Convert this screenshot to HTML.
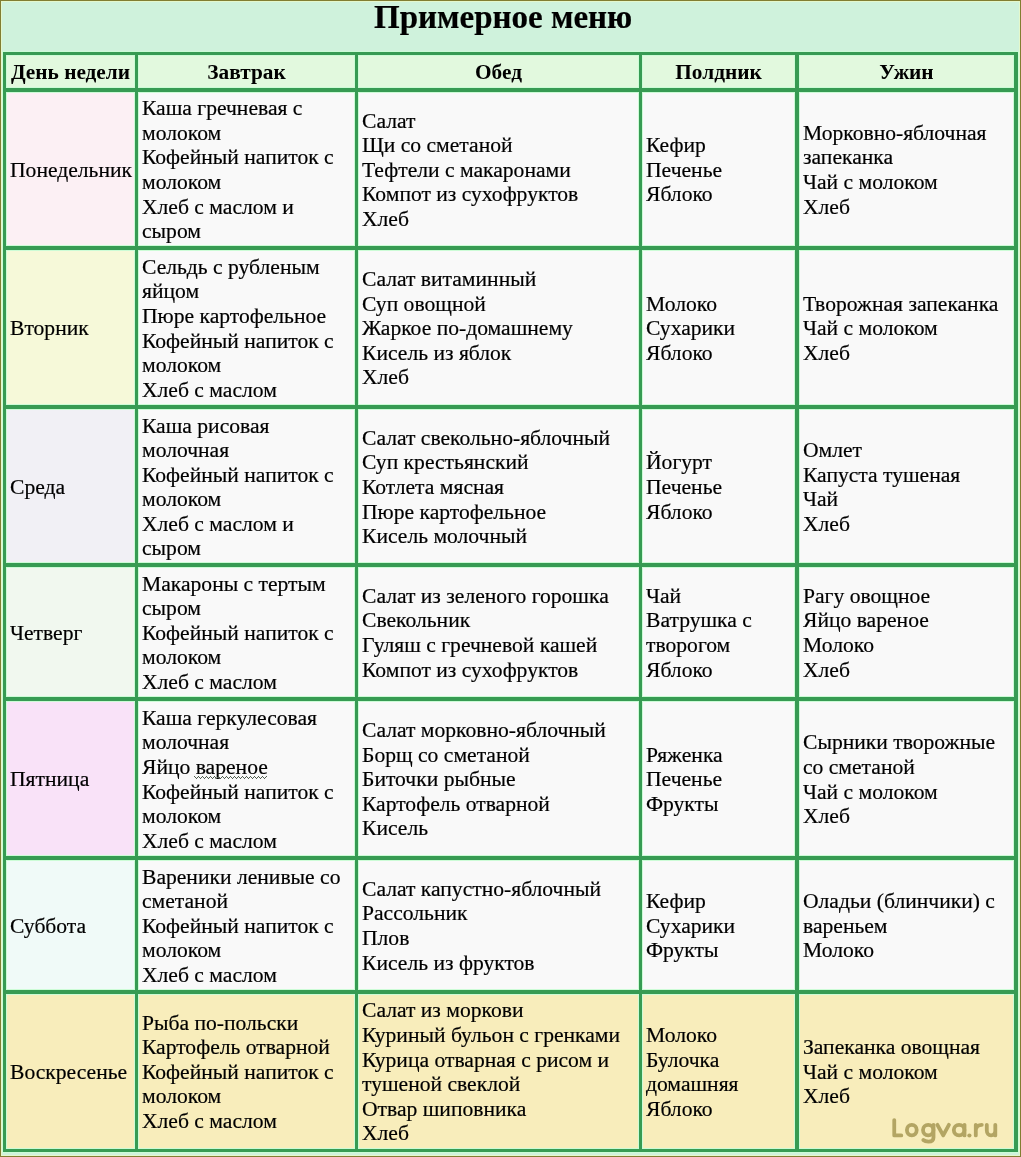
<!DOCTYPE html>
<html><head><meta charset="utf-8"><style>
html,body{margin:0;padding:0}
body{width:1021px;height:1157px;position:relative;overflow:hidden;background:#cff2dc;font-family:"Liberation Serif",serif;color:#000;-webkit-text-stroke:0.2px #000}
.a{position:absolute}
.c{position:absolute;will-change:transform;display:flex;flex-direction:column;justify-content:center;box-sizing:border-box;padding-left:4px;font-size:21.6px;line-height:24.6px;white-space:nowrap}
.h{position:absolute;will-change:transform;display:flex;flex-direction:column;justify-content:center;align-items:center;box-sizing:border-box;padding-top:1.6px;-webkit-text-stroke:0;font-size:21.3px;line-height:24.6px;font-weight:bold;white-space:nowrap}
.b{position:absolute;background:#379b53}
#title{position:absolute;will-change:transform;left:374px;top:-1px;font-size:33px;font-weight:bold;line-height:36px;white-space:nowrap}
</style></head><body>

<div class="a" style="left:0;top:0;width:1021px;height:1157px;box-sizing:border-box;border:1px solid #827e32;box-shadow:inset 0 0 0 1px #e4f8cc"></div>
<div id="title">Примерное меню</div>
<div class="h" style="left:6px;top:55px;width:129px;height:33px;background:#e2f9de">День недели</div>
<div class="h" style="left:138px;top:55px;width:217px;height:33px;background:#e2f9de">Завтрак</div>
<div class="h" style="left:358px;top:55px;width:281px;height:33px;background:#e2f9de">Обед</div>
<div class="h" style="left:642px;top:55px;width:153px;height:33px;background:#e2f9de">Полдник</div>
<div class="h" style="left:799px;top:55px;width:215px;height:33px;background:#e2f9de">Ужин</div>
<div class="c" style="padding-top:2.00px;left:6px;top:92px;width:129px;height:154px;background:#fcf0f4"><div>Понедельник</div></div>
<div class="c" style="padding-top:2.00px;left:138px;top:92px;width:217px;height:154px;background:#f9f9f9"><div>Каша гречневая с</div><div>молоком</div><div>Кофейный напиток с</div><div>молоком</div><div>Хлеб с маслом и</div><div>сыром</div></div>
<div class="c" style="padding-top:2.00px;left:358px;top:92px;width:281px;height:154px;background:#f9f9f9"><div>Салат</div><div>Щи со сметаной</div><div>Тефтели с макаронами</div><div>Компот из сухофруктов</div><div>Хлеб</div></div>
<div class="c" style="padding-top:2.00px;left:642px;top:92px;width:153px;height:154px;background:#f9f9f9"><div>Кефир</div><div>Печенье</div><div>Яблоко</div></div>
<div class="c" style="padding-top:2.00px;left:799px;top:92px;width:215px;height:154px;background:#f9f9f9"><div>Морковно-яблочная</div><div>запеканка</div><div>Чай с молоком</div><div>Хлеб</div></div>
<div class="c" style="padding-top:2.00px;left:6px;top:250px;width:129px;height:155px;background:#f6f9d9"><div>Вторник</div></div>
<div class="c" style="padding-top:2.00px;left:138px;top:250px;width:217px;height:155px;background:#f9f9f9"><div>Сельдь с рубленым</div><div>яйцом</div><div>Пюре картофельное</div><div>Кофейный напиток с</div><div>молоком</div><div>Хлеб с маслом</div></div>
<div class="c" style="padding-top:2.00px;left:358px;top:250px;width:281px;height:155px;background:#f9f9f9"><div>Салат витаминный</div><div>Суп овощной</div><div>Жаркое по-домашнему</div><div>Кисель из яблок</div><div>Хлеб</div></div>
<div class="c" style="padding-top:2.00px;left:642px;top:250px;width:153px;height:155px;background:#f9f9f9"><div>Молоко</div><div>Сухарики</div><div>Яблоко</div></div>
<div class="c" style="padding-top:2.00px;left:799px;top:250px;width:215px;height:155px;background:#f9f9f9"><div>Творожная запеканка</div><div>Чай с молоком</div><div>Хлеб</div></div>
<div class="c" style="padding-top:2.60px;left:6px;top:409px;width:129px;height:154px;background:#f1f0f5"><div>Среда</div></div>
<div class="c" style="padding-top:2.60px;left:138px;top:409px;width:217px;height:154px;background:#f9f9f9"><div>Каша рисовая</div><div>молочная</div><div>Кофейный напиток с</div><div>молоком</div><div>Хлеб с маслом и</div><div>сыром</div></div>
<div class="c" style="padding-top:2.60px;left:358px;top:409px;width:281px;height:154px;background:#f9f9f9"><div>Салат свекольно-яблочный</div><div>Суп крестьянский</div><div>Котлета мясная</div><div>Пюре картофельное</div><div>Кисель молочный</div></div>
<div class="c" style="padding-top:2.60px;left:642px;top:409px;width:153px;height:154px;background:#f9f9f9"><div>Йогурт</div><div>Печенье</div><div>Яблоко</div></div>
<div class="c" style="padding-top:2.60px;left:799px;top:409px;width:215px;height:154px;background:#f9f9f9"><div>Омлет</div><div>Капуста тушеная</div><div>Чай</div><div>Хлеб</div></div>
<div class="c" style="padding-top:2.00px;left:6px;top:567px;width:129px;height:130px;background:#f1f8ef"><div>Четверг</div></div>
<div class="c" style="padding-top:2.00px;left:138px;top:567px;width:217px;height:130px;background:#f9f9f9"><div>Макароны с тертым</div><div>сыром</div><div>Кофейный напиток с</div><div>молоком</div><div>Хлеб с маслом</div></div>
<div class="c" style="padding-top:2.00px;left:358px;top:567px;width:281px;height:130px;background:#f9f9f9"><div>Салат из зеленого горошка</div><div>Свекольник</div><div>Гуляш с гречневой кашей</div><div>Компот из сухофруктов</div></div>
<div class="c" style="padding-top:2.00px;left:642px;top:567px;width:153px;height:130px;background:#f9f9f9"><div>Чай</div><div>Ватрушка с</div><div>творогом</div><div>Яблоко</div></div>
<div class="c" style="padding-top:2.00px;left:799px;top:567px;width:215px;height:130px;background:#f9f9f9"><div>Рагу овощное</div><div>Яйцо вареное</div><div>Молоко</div><div>Хлеб</div></div>
<div class="c" style="padding-top:2.00px;left:6px;top:701px;width:129px;height:155px;background:#f9e2f8"><div>Пятница</div></div>
<div class="c" style="padding-top:2.00px;left:138px;top:701px;width:217px;height:155px;background:#f9f9f9"><div>Каша геркулесовая</div><div>молочная</div><div>Яйцо вареное</div><div>Кофейный напиток с</div><div>молоком</div><div>Хлеб с маслом</div></div>
<div class="c" style="padding-top:2.00px;left:358px;top:701px;width:281px;height:155px;background:#f9f9f9"><div>Салат морковно-яблочный</div><div>Борщ со сметаной</div><div>Биточки рыбные</div><div>Картофель отварной</div><div>Кисель</div></div>
<div class="c" style="padding-top:2.00px;left:642px;top:701px;width:153px;height:155px;background:#f9f9f9"><div>Ряженка</div><div>Печенье</div><div>Фрукты</div></div>
<div class="c" style="padding-top:2.00px;left:799px;top:701px;width:215px;height:155px;background:#f9f9f9"><div>Сырники творожные</div><div>со сметаной</div><div>Чай с молоком</div><div>Хлеб</div></div>
<div class="c" style="padding-top:2.00px;left:6px;top:860px;width:129px;height:130px;background:#f0faf8"><div>Суббота</div></div>
<div class="c" style="padding-top:2.00px;left:138px;top:860px;width:217px;height:130px;background:#f9f9f9"><div>Вареники ленивые со</div><div>сметаной</div><div>Кофейный напиток с</div><div>молоком</div><div>Хлеб с маслом</div></div>
<div class="c" style="padding-top:2.00px;left:358px;top:860px;width:281px;height:130px;background:#f9f9f9"><div>Салат капустно-яблочный</div><div>Рассольник</div><div>Плов</div><div>Кисель из фруктов</div></div>
<div class="c" style="padding-top:2.00px;left:642px;top:860px;width:153px;height:130px;background:#f9f9f9"><div>Кефир</div><div>Сухарики</div><div>Фрукты</div></div>
<div class="c" style="padding-top:2.00px;left:799px;top:860px;width:215px;height:130px;background:#f9f9f9"><div>Оладьи (блинчики) с</div><div>вареньем</div><div>Молоко</div></div>
<div class="c" style="padding-top:1.40px;left:6px;top:994px;width:129px;height:155px;background:#f8edbb"><div>Воскресенье</div></div>
<div class="c" style="padding-top:1.40px;left:138px;top:994px;width:217px;height:155px;background:#f8edbb"><div>Рыба по-польски</div><div>Картофель отварной</div><div>Кофейный напиток с</div><div>молоком</div><div>Хлеб с маслом</div></div>
<div class="c" style="padding-top:1.40px;left:358px;top:994px;width:281px;height:155px;background:#f8edbb"><div>Салат из моркови</div><div>Куриный бульон с гренками</div><div>Курица отварная с рисом и</div><div>тушеной свеклой</div><div>Отвар шиповника</div><div>Хлеб</div></div>
<div class="c" style="padding-top:1.40px;left:642px;top:994px;width:153px;height:155px;background:#f8edbb"><div>Молоко</div><div>Булочка</div><div>домашняя</div><div>Яблоко</div></div>
<div class="c" style="padding-top:1.40px;left:799px;top:994px;width:215px;height:155px;background:#f8edbb"><div>Запеканка овощная</div><div>Чай с молоком</div><div>Хлеб</div></div>
<div class="a" style="background:#ccfcd6;left:2px;top:51px;width:5px;height:1102px"></div>
<div class="a" style="background:#ccfcd6;left:134px;top:51px;width:5px;height:1102px"></div>
<div class="a" style="background:#ccfcd6;left:354px;top:51px;width:5px;height:1102px"></div>
<div class="a" style="background:#ccfcd6;left:638px;top:51px;width:5px;height:1102px"></div>
<div class="a" style="background:#ccfcd6;left:794px;top:51px;width:6px;height:1102px"></div>
<div class="a" style="background:#ccfcd6;left:1013px;top:51px;width:6px;height:1102px"></div>
<div class="a" style="background:#ccfcd6;left:2px;top:51px;width:1017px;height:5px"></div>
<div class="a" style="background:#ccfcd6;left:2px;top:87px;width:1017px;height:6px"></div>
<div class="a" style="background:#ccfcd6;left:2px;top:245px;width:1017px;height:6px"></div>
<div class="a" style="background:#ccfcd6;left:2px;top:404px;width:1017px;height:6px"></div>
<div class="a" style="background:#ccfcd6;left:2px;top:562px;width:1017px;height:6px"></div>
<div class="a" style="background:#ccfcd6;left:2px;top:696px;width:1017px;height:6px"></div>
<div class="a" style="background:#ccfcd6;left:2px;top:855px;width:1017px;height:6px"></div>
<div class="a" style="background:#ccfcd6;left:2px;top:989px;width:1017px;height:6px"></div>
<div class="a" style="background:#ccfcd6;left:2px;top:1148px;width:1017px;height:5px"></div>
<div class="b" style="left:3px;top:52px;width:3px;height:1100px"></div>
<div class="b" style="left:135px;top:52px;width:3px;height:1100px"></div>
<div class="b" style="left:355px;top:52px;width:3px;height:1100px"></div>
<div class="b" style="left:639px;top:52px;width:3px;height:1100px"></div>
<div class="b" style="left:795px;top:52px;width:4px;height:1100px"></div>
<div class="b" style="left:1014px;top:52px;width:4px;height:1100px"></div>
<div class="b" style="left:3px;top:52px;width:1015px;height:3px"></div>
<div class="b" style="left:3px;top:88px;width:1015px;height:4px"></div>
<div class="b" style="left:3px;top:246px;width:1015px;height:4px"></div>
<div class="b" style="left:3px;top:405px;width:1015px;height:4px"></div>
<div class="b" style="left:3px;top:563px;width:1015px;height:4px"></div>
<div class="b" style="left:3px;top:697px;width:1015px;height:4px"></div>
<div class="b" style="left:3px;top:856px;width:1015px;height:4px"></div>
<div class="b" style="left:3px;top:990px;width:1015px;height:4px"></div>
<div class="b" style="left:3px;top:1149px;width:1015px;height:3px"></div>
<svg class="a" style="left:190px;top:776px" width="80" height="3" shape-rendering="crispEdges"><g fill="#4f5c4f"><rect x="4" y="0" width="1" height="1"/><rect x="5" y="1" width="1" height="1"/><rect x="6" y="2" width="1" height="1"/><rect x="7" y="1" width="1" height="1"/><rect x="8" y="0" width="1" height="1"/><rect x="9" y="1" width="1" height="1"/><rect x="10" y="2" width="1" height="1"/><rect x="11" y="1" width="1" height="1"/><rect x="12" y="0" width="1" height="1"/><rect x="13" y="1" width="1" height="1"/><rect x="14" y="2" width="1" height="1"/><rect x="15" y="1" width="1" height="1"/><rect x="16" y="0" width="1" height="1"/><rect x="17" y="1" width="1" height="1"/><rect x="18" y="2" width="1" height="1"/><rect x="19" y="1" width="1" height="1"/><rect x="20" y="0" width="1" height="1"/><rect x="21" y="1" width="1" height="1"/><rect x="22" y="2" width="1" height="1"/><rect x="23" y="1" width="1" height="1"/><rect x="24" y="0" width="1" height="1"/><rect x="25" y="1" width="1" height="1"/><rect x="26" y="2" width="1" height="1"/><rect x="27" y="1" width="1" height="1"/><rect x="28" y="0" width="1" height="1"/><rect x="29" y="1" width="1" height="1"/><rect x="30" y="2" width="1" height="1"/><rect x="31" y="1" width="1" height="1"/><rect x="32" y="0" width="1" height="1"/><rect x="33" y="1" width="1" height="1"/><rect x="34" y="2" width="1" height="1"/><rect x="35" y="1" width="1" height="1"/><rect x="36" y="0" width="1" height="1"/><rect x="37" y="1" width="1" height="1"/><rect x="38" y="2" width="1" height="1"/><rect x="39" y="1" width="1" height="1"/><rect x="40" y="0" width="1" height="1"/><rect x="41" y="1" width="1" height="1"/><rect x="42" y="2" width="1" height="1"/><rect x="43" y="1" width="1" height="1"/><rect x="44" y="0" width="1" height="1"/><rect x="45" y="1" width="1" height="1"/><rect x="46" y="2" width="1" height="1"/><rect x="47" y="1" width="1" height="1"/><rect x="48" y="0" width="1" height="1"/><rect x="49" y="1" width="1" height="1"/><rect x="50" y="2" width="1" height="1"/><rect x="51" y="1" width="1" height="1"/><rect x="52" y="0" width="1" height="1"/><rect x="53" y="1" width="1" height="1"/><rect x="54" y="2" width="1" height="1"/><rect x="55" y="1" width="1" height="1"/><rect x="56" y="0" width="1" height="1"/><rect x="57" y="1" width="1" height="1"/><rect x="58" y="2" width="1" height="1"/><rect x="59" y="1" width="1" height="1"/><rect x="60" y="0" width="1" height="1"/><rect x="61" y="1" width="1" height="1"/><rect x="62" y="2" width="1" height="1"/><rect x="63" y="1" width="1" height="1"/><rect x="64" y="0" width="1" height="1"/><rect x="65" y="1" width="1" height="1"/><rect x="66" y="2" width="1" height="1"/><rect x="67" y="1" width="1" height="1"/><rect x="68" y="0" width="1" height="1"/><rect x="69" y="1" width="1" height="1"/><rect x="70" y="2" width="1" height="1"/><rect x="71" y="1" width="1" height="1"/><rect x="72" y="0" width="1" height="1"/><rect x="73" y="1" width="1" height="1"/><rect x="74" y="2" width="1" height="1"/><rect x="75" y="1" width="1" height="1"/><rect x="76" y="0" width="1" height="1"/></g></svg>
<svg class="a" style="left:885px;top:1110px" width="120" height="40" viewBox="0 0 120 40"><g fill="none" stroke="#b3a563" stroke-width="3.8" stroke-linecap="round" stroke-linejoin="round"><path d="M9.25,10.1V25.4H16.3"/><ellipse cx="26.8" cy="20.1" rx="4.9" ry="5.3"/><ellipse cx="43.2" cy="20.1" rx="5.2" ry="5.3"/><path d="M48.5,14.8V27.5Q48.5,31.6 43.5,31.6Q40,31.6 38.3,30"/><path d="M52.4,14.8L58.2,25.4L63.9,14.8"/><ellipse cx="74.1" cy="20.1" rx="5.3" ry="5.3"/><path d="M79.5,14.8V25.4"/><path d="M90.8,25.4V14.8M90.8,19.8Q91.5,14.8 96.8,14.8"/><path d="M101.8,14.8V20.5A4.25,4.9 0 0 0 110.3,20.5V14.8V25.4"/></g><circle cx="84.4" cy="25.5" r="2.1" fill="#b3a563"/></svg>
</body></html>
